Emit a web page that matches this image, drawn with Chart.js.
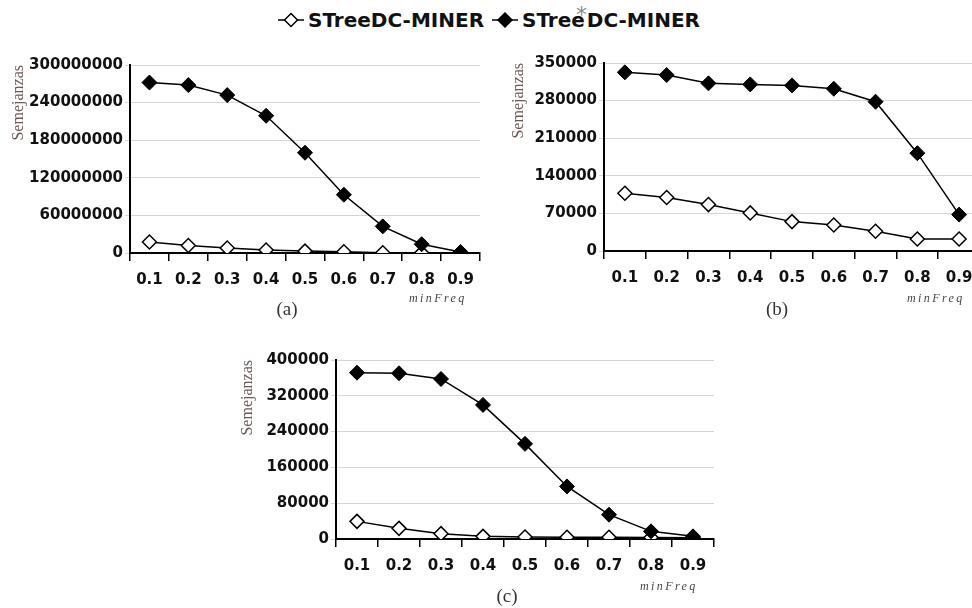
<!DOCTYPE html>
<html lang="es">
<head>
<meta charset="UTF-8">
<title>Semejanzas vs minFreq</title>
<script src="https://cdn.jsdelivr.net/npm/chart.js"></script>
<style>
    html, body { margin: 0; padding: 0; background: #fff; overflow: hidden; }
    body { width: 972px; height: 608px; position: relative; }
    .box { position: absolute; }
    .legend-item { position: absolute; top: 9px; display: flex; align-items: center; line-height: 22px;
        font-family: "DejaVu Sans", sans-serif; font-weight: bold; font-size: 20px; color: #111; white-space: nowrap; }
    .legend-item svg { margin-right: 4px; }
    .star { position: absolute; color: #888; font-family: "DejaVu Sans", sans-serif; font-size: 22px; line-height: 22px; }
    .xname { position: absolute; font-family: "Liberation Serif", serif; font-style: italic; font-size: 12px;
        letter-spacing: 2.4px; color: #444; }
    .caption { position: absolute; font-family: "Liberation Serif", serif; font-size: 19px; color: #333; transform: translateX(-50%); }
</style>
</head>
<body>

<div class="legend-item" style="left:278px;">
    <svg width="26" height="16"><line x1="0" y1="8" x2="26" y2="8" stroke="#000" stroke-width="1.5"/>
        <polygon points="13,1.5 19.5,8 13,14.5 6.5,8" fill="#fff" stroke="#000" stroke-width="1.5"/></svg>
    <span>STreeDC-MINER</span>
</div>
<div class="legend-item" style="left:492px;">
    <svg width="26" height="16"><line x1="0" y1="8" x2="26" y2="8" stroke="#000" stroke-width="1.5"/>
        <polygon points="13,1 20,8 13,15 6,8" fill="#000" stroke="#000" stroke-width="1.5"/></svg>
    <span>STree&#8202;DC-MINER</span>
</div>
<span class="star" style="left:576px;top:4px;">*</span>

<div class="box" style="left:0px;top:50px;width:490px;height:255px;"><canvas id="chartA"></canvas></div>
<div class="box" style="left:490px;top:48px;width:500px;height:255px;"><canvas id="chartB"></canvas></div>
<div class="box" style="left:230px;top:345px;width:494px;height:246px;"><canvas id="chartC"></canvas></div>

<div class="xname" style="left:409px;top:291px;">minFreq</div>
<div class="xname" style="left:907px;top:291px;">minFreq</div>
<div class="xname" style="left:640px;top:579px;">minFreq</div>

<div class="caption" style="left:287px;top:298px;">(a)</div>
<div class="caption" style="left:777px;top:298px;">(b)</div>
<div class="caption" style="left:507px;top:585px;">(c)</div>

<script>
// minFreq values on the x axis
const minFreq = ['0.1', '0.2', '0.3', '0.4', '0.5', '0.6', '0.7', '0.8', '0.9'];

// (a)
const openA   = [17500000, 12000000, 8000000, 4800000, 3000000, 2000000, 500000, 200000, 0];
const filledA = [272000000, 268000000, 252000000, 219000000, 160000000, 93000000, 42500000, 14000000, 1600000];
// (b)
const openB   = [107500, 99500, 86400, 70900, 54700, 48500, 36700, 22400, 22400];
const filledB = [332600, 327600, 312100, 310200, 308300, 302100, 277900, 182100, 67800];
// (c)
const openC   = [39400, 23800, 11900, 5900, 4500, 4000, 4000, 3500, 3000];
const filledC = [371700, 370300, 357600, 299600, 212600, 117500, 54300, 17100, 5900];

// [min, max, step]
const yTicksA = [0, 300000000, 60000000];
const yTicksB = [0, 350000, 70000];
const yTicksC = [0, 400000, 80000];

const seriesNames = ['STreeDC-MINER', 'STree*DC-MINER'];

const tickFont = { family: 'DejaVu Sans', size: 15, weight: 'bold' };

function makeChart(id, openVals, filledVals, yTicks, yWidth, titlePad) {
    new Chart(document.getElementById(id), {
        type: 'line',
        data: {
            labels: minFreq,
            datasets: [
                {
                    label: seriesNames[1],
                    data: filledVals,
                    borderColor: '#000',
                    borderWidth: 1.5,
                    backgroundColor: '#000',
                    pointStyle: 'rectRot',
                    pointRadius: 7.5,
                    pointBackgroundColor: '#000',
                    pointBorderColor: '#000',
                    pointBorderWidth: 1,
                    tension: 0
                },
                {
                    label: seriesNames[0],
                    data: openVals,
                    borderColor: '#000',
                    borderWidth: 1.5,
                    backgroundColor: '#fff',
                    pointStyle: 'rectRot',
                    pointRadius: 7,
                    pointBackgroundColor: '#fff',
                    pointBorderColor: '#000',
                    pointBorderWidth: 1.5,
                    tension: 0
                }
            ]
        },
        options: {
            responsive: true,
            maintainAspectRatio: false,
            animation: false,
            layout: { padding: { top: 15, right: 10, left: 0, bottom: 0 } },
            plugins: { legend: { display: false }, tooltip: { enabled: false } },
            scales: {
                x: {
                    offset: true,
                    grid: { offset: true, drawOnChartArea: false, drawTicks: true, tickLength: 8, color: '#000', lineWidth: 1.5 },
                    border: { color: '#000', width: 2 },
                    ticks: { color: '#111', font: tickFont, padding: 10, maxRotation: 0 },
                    afterFit: (scale) => { scale.height = 52; }
                },
                y: {
                    min: yTicks[0],
                    max: yTicks[1],
                    ticks: { stepSize: yTicks[2], color: '#111', font: tickFont, padding: 2,
                        callback: (v) => String(v) },
                    grid: { color: '#d6d6d6', lineWidth: 1, tickLength: 5 },
                    border: { color: '#000', width: 2 },
                    title: {
                        display: true,
                        text: 'Semejanzas',
                        align: 'end',
                        color: '#6d5757',
                        font: { family: 'Liberation Serif', size: 16 },
                        padding: { top: titlePad, bottom: 0 }
                    },
                    afterFit: (scale) => { scale.width = yWidth; }
                }
            }
        }
    });
}

makeChart('chartA', openA, filledA, yTicksA, 130, 9);
makeChart('chartB', openB, filledB, yTicksB, 114, 19);
makeChart('chartC', openC, filledC, yTicksC, 106, 8);
</script>
</body>
</html>
